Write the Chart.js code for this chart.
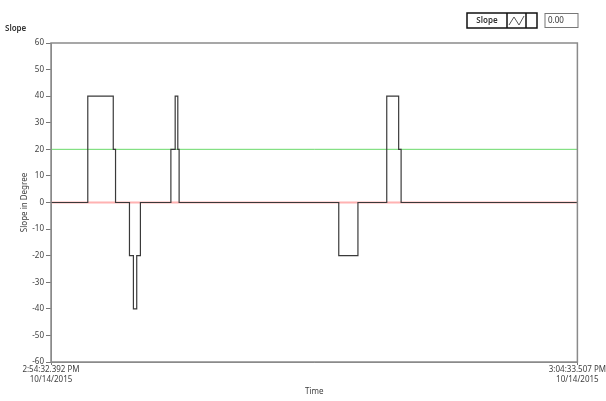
<!DOCTYPE html>
<html>
<head>
<meta charset="utf-8">
<title>Slope</title>
<script src="https://cdn.jsdelivr.net/npm/chart.js@4/dist/chart.umd.min.js"></script>
<style>
  html, body { margin: 0; padding: 0; background: #fff; }
  #wrap { width: 606px; height: 401px; position: relative; }
</style>
</head>
<body>
<div id="wrap"><canvas id="slopeChart"></canvas></div>
<script>
// seconds since 2:54:32.392 PM and slope (degrees) from that time on
const timeSec = [0, 42.0, 71.1, 73.7, 89.6, 94.1, 97.9, 102.1, 136.9, 141.8, 144.8, 146.3, 328.6, 350.5, 383.4, 397.0, 399.8, 601.1];
const slopeDeg = [0, 40, 20, 0, -20, -40, -20, 0, 20, 40, 20, 0, -20, 0, 40, 20, 0, 0];

const spanSec = [0, 601.1];
const limitLine = [20, 20];
const zeroLine = [0, 0];

const yTicks = [-60, -50, -40, -30, -20, -10, 0, 10, 20, 30, 40, 50, 60];
const startLabel = ['2:54:32.392 PM', '10/14/2015'];
const endLabel = ['3:04:33.507 PM', '10/14/2015'];

const FONT = 'Noto Sans';

// frame, "Slope" label, legend box and numeric display
const extras = {
  id: 'extras',
  afterDraw(chart) {
    const ctx = chart.ctx;
    const a = chart.chartArea;
    ctx.save();
    ctx.strokeStyle = '#8a8a8a';
    ctx.lineWidth = 1.5;
    ctx.strokeRect(a.left, a.top, a.right - a.left, a.bottom - a.top);

    ctx.fillStyle = '#333';
    ctx.font = '600 8px "' + FONT + '"';
    ctx.textBaseline = 'middle';
    ctx.fillText('Slope', 5, 29);

    // legend
    ctx.strokeStyle = '#111';
    ctx.lineWidth = 1.5;
    ctx.strokeRect(467, 13, 70, 15);
    ctx.beginPath();
    ctx.moveTo(507, 13); ctx.lineTo(507, 28);
    ctx.moveTo(526, 13); ctx.lineTo(526, 28);
    ctx.stroke();
    ctx.textAlign = 'center';
    ctx.fillText('Slope', 487, 20.5);
    ctx.strokeStyle = '#555';
    ctx.lineWidth = 1;
    ctx.beginPath();
    ctx.moveTo(509, 25); ctx.lineTo(514, 17); ctx.lineTo(519, 25); ctx.lineTo(524, 16);
    ctx.stroke();

    // numeric display
    ctx.strokeStyle = '#777';
    ctx.strokeRect(545, 13.5, 33, 14);
    ctx.textAlign = 'left';
    ctx.font = '8px "' + FONT + '"';
    ctx.fillText('0.00', 548, 20.5);
    ctx.restore();
  }
};

const ctx = document.getElementById('slopeChart').getContext('2d');
new Chart(ctx, {
  type: 'line',
  data: {
    datasets: [
      {
        label: 'Slope',
        data: timeSec.map((t, i) => ({ x: t, y: slopeDeg[i] })),
        stepped: 'before',
        borderColor: '#3a3a3a',
        borderWidth: 1.2,
        pointRadius: 0,
        fill: false
      },
      {
        label: 'Limit',
        data: spanSec.map((t, i) => ({ x: t, y: limitLine[i] })),
        borderColor: '#6ada6a',
        borderWidth: 1,
        pointRadius: 0
      },
      {
        label: 'Zero',
        data: spanSec.map((t, i) => ({ x: t, y: zeroLine[i] })),
        borderColor: '#ffb2b2',
        borderWidth: 2,
        pointRadius: 0
      }
    ]
  },
  options: {
    responsive: true,
    maintainAspectRatio: false,
    animation: false,
    layout: { padding: { top: 43, right: 25, left: 0, bottom: 0 } },
    plugins: {
      legend: { display: false },
      tooltip: { enabled: false }
    },
    scales: {
      x: {
        type: 'linear',
        min: spanSec[0],
        max: spanSec[1],
        afterFit: (s) => { s.height = 39; },
        afterBuildTicks: (s) => { s.ticks = [{ value: spanSec[0] }, { value: spanSec[1] }]; },
        ticks: {
          autoSkip: false,
          maxRotation: 0,
          padding: 0,
          color: '#404040',
          font: { family: FONT, size: 8, lineHeight: 1.25 },
          callback: (v) => (v === spanSec[0] ? startLabel : endLabel)
        },
        grid: { drawOnChartArea: false, tickLength: 3, color: '#777' },
        border: { color: '#8a8a8a' },
        title: {
          display: true,
          text: 'Time',
          color: '#404040',
          font: { family: FONT, size: 8 },
          padding: { top: 0, bottom: 4 }
        }
      },
      y: {
        min: -60,
        max: 60,
        afterFit: (s) => { s.width = 51; },
        afterBuildTicks: (s) => { s.ticks = yTicks.map(v => ({ value: v })); },
        ticks: {
          padding: 2,
          color: '#404040',
          font: { family: FONT, size: 8 }
        },
        grid: { drawOnChartArea: false, tickLength: 5, color: '#777' },
        border: { color: '#8a8a8a' },
        title: {
          display: true,
          text: 'Slope in Degree',
          color: '#404040',
          font: { family: FONT, size: 8 },
          padding: { top: 20, bottom: 0 }
        }
      }
    }
  },
  plugins: [extras]
});
</script>
</body>
</html>
